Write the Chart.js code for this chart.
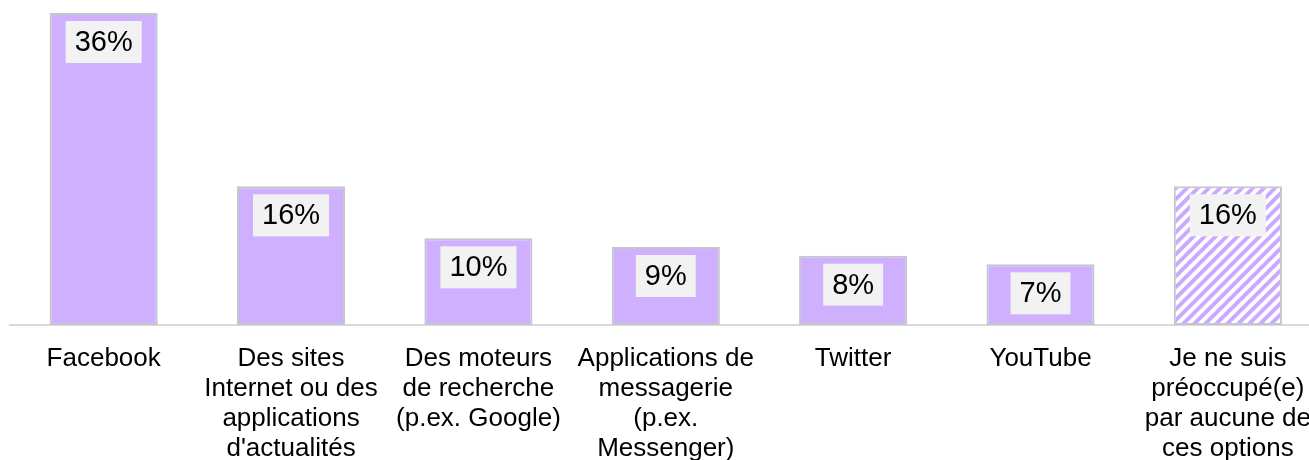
<!DOCTYPE html>
<html>
<head>
<meta charset="utf-8">
<script src="https://cdn.jsdelivr.net/npm/chart.js@4.4.1/dist/chart.umd.min.js"></script>
<style>
  html, body { margin: 0; padding: 0; background: #fff; overflow: hidden; width: 1309px; height: 460px; }
  #wrap { position: absolute; left: 0; top: 0; width: 1330px; height: 460px; }
</style>
</head>
<body>
<div id="wrap"><canvas id="c"></canvas></div>
<script>
const categories = [
  "Facebook",
  ["Des sites", "Internet ou des", "applications", "d'actualités"],
  ["Des moteurs", "de recherche", "(p.ex. Google)"],
  ["Applications de", "messagerie", "(p.ex.", "Messenger)"],
  "Twitter",
  "YouTube",
  ["Je ne suis", "préoccupé(e)", "par aucune de", "ces options"]
];
const values = [36, 16, 10, 9, 8, 7, 16];
const hatchedIndex = 6;

const FILL = '#CFB0FF';
const BORDER = '#C3C6CD';

function makeHatch() {
  const s = 11;
  const c = document.createElement('canvas');
  c.width = s; c.height = s;
  const g = c.getContext('2d');
  g.fillStyle = '#ffffff';
  g.fillRect(0, 0, s, s);
  g.strokeStyle = '#CBA9FF';
  g.lineWidth = 4;
  g.beginPath();
  g.moveTo(-2, s + 2); g.lineTo(s + 2, -2);
  g.moveTo(-s - 2, s + 2); g.lineTo(2, -2);
  g.moveTo(-2, 2 * s + 2); g.lineTo(s + 2, s - 2);
  g.moveTo(s - 2, s + 2); g.lineTo(2 * s + 2, -2);
  g.stroke();
  return g.createPattern(c, 'repeat');
}
const hatch = makeHatch();

const valueLabels = {
  id: 'valueLabels',
  afterDatasetsDraw(chart) {
    const ctx = chart.ctx;
    const meta = chart.getDatasetMeta(0);
    ctx.save();
    ctx.font = '29px "Liberation Sans", Arial, sans-serif';
    ctx.textAlign = 'center';
    ctx.textBaseline = 'middle';
    meta.data.forEach((bar, i) => {
      const txt = values[i] + '%';
      const w = ctx.measureText(txt).width + 18;
      const h = 42;
      const top = bar.y + 8;
      ctx.fillStyle = '#F2F2F2';
      ctx.fillRect(bar.x - w / 2, top, w, h);
      ctx.fillStyle = '#000000';
      ctx.fillText(txt, bar.x, top + h / 2 + 1);
    });
    ctx.restore();
  }
};

new Chart(document.getElementById('c'), {
  type: 'bar',
  data: {
    labels: categories,
    datasets: [{
      data: values,
      backgroundColor: (ctx) => ctx.dataIndex === hatchedIndex ? hatch : FILL,
      borderColor: BORDER,
      borderWidth: 2,
      borderSkipped: false,
      barPercentage: 0.577,
      categoryPercentage: 1.0
    }]
  },
  options: {
    responsive: true,
    maintainAspectRatio: false,
    animation: false,
    layout: { padding: { left: 10, right: 0, top: 13, bottom: 0 } },
    plugins: { legend: { display: false }, tooltip: { enabled: false } },
    scales: {
      y: { display: false, min: 0, max: 36 },
      x: {
        afterFit: (scale) => { scale.height = 135; },
        grid: { display: false, drawTicks: false, tickLength: 0 },
        border: { display: true, color: '#D9D9D9', width: 2 },
        ticks: {
          color: '#000000',
          autoSkip: false,
          maxRotation: 0,
          minRotation: 0,
          padding: 19,
          font: { family: '"Liberation Sans", Arial, sans-serif', size: 26, lineHeight: 30 / 26 }
        }
      }
    }
  },
  plugins: [valueLabels]
});
</script>
</body>
</html>
